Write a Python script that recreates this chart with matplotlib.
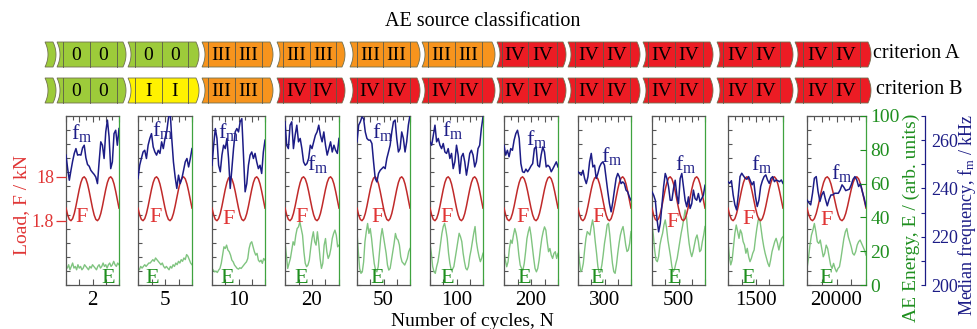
import numpy as np
import matplotlib
matplotlib.use("Agg")
import matplotlib.pyplot as plt
from matplotlib.patches import Polygon

plt.rcParams['font.family'] = ['Liberation Serif', 'DejaVu Serif']
plt.rcParams['mathtext.fontset'] = 'custom'
plt.rcParams['mathtext.rm'] = 'Liberation Serif'
plt.rcParams['mathtext.it'] = 'Liberation Serif:italic'

# ---------------- data ----------------
cycle_labels = ["2", "5", "10", "20", "50", "100", "200", "300", "500", "1500", "20000"]
criterion_A = ["0", "0", "III", "III", "III", "III", "IV", "IV", "IV", "IV", "IV"]
criterion_B = ["0", "I", "III", "IV", "IV", "IV", "IV", "IV", "IV", "IV", "IV"]

# load waveform (kN), same in every panel, two load cycles per panel
load_F = [6.45, 3.91, 2.28, 1.81, 2.57, 4.45, 7.16, 10.28, 13.35, 15.89, 17.52, 17.99,
          17.23, 15.35, 12.64, 9.52, 6.45, 3.91, 2.28, 1.81, 2.57, 4.45, 7.16, 10.28,
          13.35, 15.89, 17.52, 17.99, 17.23, 15.35, 12.64, 9.52, 6.45]

# median frequency (kHz)
fm_2 = [253.8, 248.2, 243.4, 247.5, 251.3, 254.5, 256.5, 253.8, 254.0, 253.8, 256.8, 257.9, 252.7,
        249.9, 249.2, 247.5, 246.6, 245.8, 244.7, 242.0, 251.0, 259.3, 257.9, 252.4, 263.4, 268.3,
        261.4, 248.2, 251.0, 262.7, 264.1, 257.9, 264.8]
fm_5 = [244.1, 249.6, 252.4, 255.1, 255.8, 252.4, 257.9, 260.7, 262.7, 257.2, 255.1, 253.8, 255.8,
        254.5, 259.3, 256.5, 260.7, 263.4, 268.9, 272.5, 260.7, 251.0, 244.8, 240.0, 245.5, 242.0,
        244.1, 247.5, 251.0, 252.4, 248.9, 252.4, 256.5]
fm_10 = [249.6, 257.9, 264.8, 260.7, 249.6, 246.9, 253.8, 257.9, 256.5, 260.7, 252.4, 240.0, 248.2,
         256.5, 263.4, 264.8, 263.4, 267.6, 268.9, 253.8, 238.6, 242.0, 249.6, 253.8, 255.1, 252.4,
         254.5, 251.0, 248.2, 249.6, 246.2, 255.1, 260.0]
fm_20 = [267.6, 257.9, 256.5, 266.2, 267.6, 256.5, 262.0, 266.2, 259.3, 260.7, 256.5, 251.0, 249.6,
         250.3, 252.4, 257.9, 256.5, 259.3, 262.0, 263.4, 266.2, 262.0, 259.3, 263.4, 257.9, 253.8,
         256.5, 259.3, 255.1, 257.9, 255.8, 254.5, 260.7]
fm_50 = [259.3, 266.2, 267.6, 269.6, 268.9, 263.4, 260.7, 260.0, 260.0, 258.6, 251.0, 244.1, 242.7,
         246.2, 247.5, 248.2, 248.9, 248.2, 252.4, 255.1, 257.9, 263.4, 267.6, 268.3, 260.7, 255.1,
         256.5, 263.4, 260.7, 255.1, 259.3, 266.2, 270.3]
fm_100 = [259.3, 257.9, 262.0, 266.2, 259.3, 260.7, 257.9, 256.5, 258.6, 255.1, 254.5, 256.5, 252.4,
          254.5, 248.2, 251.0, 257.9, 253.8, 246.2, 253.1, 254.5, 251.0, 245.5, 249.6, 254.5, 255.8,
          253.8, 248.9, 251.0, 256.5, 257.9, 264.8, 269.6]
fm_200 = [257.9, 253.8, 255.8, 253.1, 256.5, 255.8, 260.0, 262.7, 264.1, 260.7, 250.3, 246.9, 246.6,
          248.0, 246.9, 248.0, 249.3, 250.3, 256.5, 257.2, 249.6, 248.9, 253.8, 257.2, 255.1, 248.9,
          249.6, 248.9, 246.9, 248.2, 249.6, 251.0, 248.9]
fm_300 = [246.9, 246.2, 245.5, 247.5, 244.1, 242.0, 244.8, 251.0, 254.5, 248.9, 249.6, 244.1, 246.2,
          248.9, 250.3, 251.0, 249.6, 244.1, 238.6, 233.7, 230.3, 234.4, 239.3, 244.1, 246.2, 244.8,
          242.0, 242.7, 242.0, 239.3, 238.6, 236.5, 235.1]
fm_500 = [238.6, 237.2, 235.1, 227.5, 222.0, 225.5, 233.1, 240.7, 246.2, 244.1, 240.7, 235.1, 235.1,
          240.0, 243.4, 237.2, 233.7, 244.1, 246.2, 240.7, 235.1, 232.4, 236.5, 231.7, 233.7, 239.3,
          235.8, 235.1, 237.9, 234.4, 235.8, 237.2, 241.3]
fm_1500 = [242.8, 242.1, 243.2, 237.3, 233.2, 231.1, 237.3, 244.9, 246.3, 245.2, 244.2, 243.8, 244.9,
           243.2, 241.5, 242.8, 236.6, 232.5, 235.2, 240.8, 243.2, 244.9, 245.6, 243.5, 242.1, 244.2,
           244.9, 242.8, 243.5, 243.2, 242.8, 243.5, 242.1]
fm_20000 = [235.2, 234.1, 233.2, 238.0, 244.2, 244.9, 238.7, 234.6, 237.3, 238.7, 235.5, 232.8, 235.5,
            237.3, 237.3, 238.0, 238.0, 238.0, 239.4, 241.5, 240.5, 239.1, 239.4, 239.7, 241.5, 243.8,
            244.9, 243.5, 240.8, 241.9, 238.7, 235.9, 232.5]

# AE energy (arb. units)
E_2 = [11, 10, 12, 9, 11, 13, 10, 11, 9, 12, 10, 11, 9, 10, 12, 11, 10, 9, 11, 10, 12, 11, 10, 9, 11,
       12, 10, 11, 13, 11, 12, 10, 12, 13, 11, 12, 14, 12, 11, 13, 12]
E_5 = [10, 9, 11, 10, 11, 12, 11, 12, 13, 13, 14, 15, 14, 16, 15, 14, 13, 12, 13, 11, 10, 11, 10, 9,
       11, 10, 12, 11, 13, 12, 14, 13, 15, 14, 16, 15, 18, 17, 15, 13, 12]
E_10 = [9.8, 8.8, 7.8, 8.2, 7.4, 8.8, 9.8, 12.8, 17.7, 22.6, 21.6, 23.6, 20.7, 19.7, 17.7, 14.7, 13.7,
        11.8, 10.8, 9.8, 9.4, 10.2, 9.8, 10.8, 11.8, 12.8, 13.7, 15.7, 21.6, 24.6, 25.6, 22.6, 19.7,
        17.7, 18.7, 14.7, 13.7, 14.7, 12.8, 15.7, 14.7]
E_20 = [25.6, 17.7, 9.8, 12.8, 15.7, 20.6, 25.6, 23.6, 29.5, 33.4, 34.4, 37.4, 33.4, 29.5, 19.7, 12.8,
        10.8, 11.8, 14.7, 21.6, 27.5, 31.5, 25.6, 23.6, 31.5, 24.6, 15.7, 9.8, 12.8, 23.6, 27.5, 19.7,
        15.7, 17.7, 21.6, 27.5, 30.5, 32.5, 29.5, 22.6, 23.6]
E_50 = [31.5, 19.7, 9.8, 6.9, 7.8, 13.7, 25.6, 31.5, 36.4, 30.5, 33.4, 27.5, 19.7, 12.8, 8.8, 7.8,
        10.8, 19.7, 28.5, 33.4, 28.5, 23.6, 18.7, 11.8, 8.8, 9.8, 14.7, 19.7, 24.6, 30.5, 27.5, 26.6,
        23.6, 16.7, 13.7, 12.8, 11.8, 13.7, 15.7, 19.7, 21.6]
E_100 = [24.7, 18.8, 10.9, 7.9, 6.9, 10.9, 13.8, 18.8, 24.7, 30.6, 34.6, 36.5, 32.6, 27.6, 18.8, 12.8,
         8.9, 9.3, 10.9, 15.8, 20.7, 25.7, 30.6, 28.6, 25.7, 18.8, 13.8, 9.9, 8.9, 10.9, 16.8, 20.7,
         25.7, 30.6, 34.6, 25.7, 20.7, 16.8, 13.8, 15.8, 18.8]
E_200 = [19.7, 14.7, 10.8, 13.7, 21.6, 26.6, 24.6, 29.5, 33.4, 30.5, 25.6, 17.7, 11.8, 9.8, 8.8, 12.8,
         19.7, 27.5, 31.5, 34.4, 29.5, 22.6, 15.7, 9.8, 7.8, 9.8, 14.7, 21.6, 27.5, 31.5, 34.4, 32.5,
         25.6, 19.7, 21.6, 17.7, 15.7, 18.7, 19.7, 15.7, 18.7]
E_300 = [24.7, 14.8, 7.9, 8.9, 12.8, 20.7, 27.6, 31.6, 30.6, 29.6, 34.6, 38.5, 33.6, 25.7, 18.8, 10.9,
         7.3, 7.9, 11.8, 17.8, 24.7, 29.6, 35.5, 36.5, 29.6, 20.7, 12.8, 7.9, 6.9, 11.8, 18.8, 24.7,
         29.6, 32.6, 34.6, 29.6, 23.7, 19.8, 20.7, 24.7, 31.6]
E_500 = [36.5, 29.6, 20.7, 14.8, 13.8, 16.8, 23.7, 27.6, 30.6, 35.5, 38.5, 33.6, 26.6, 21.7, 16.8, 10.9,
         7.9, 9.3, 12.8, 15.8, 20.7, 25.7, 30.6, 34.6, 39.5, 44.4, 40.4, 31.6, 24.7, 19.7, 16.8, 19.7,
         23.7, 27.6, 29.6, 25.7, 19.7, 20.7, 25.7, 29.6, 34.6]
E_1500 = [26.6, 16.8, 11.9, 14.8, 22.7, 30.6, 35.5, 31.6, 27.6, 32.6, 30.6, 25.7, 23.7, 18.8, 21.7,
          16.8, 13.8, 15.8, 18.8, 20.7, 27.6, 33.6, 38.5, 39.5, 33.6, 27.6, 22.7, 18.8, 15.8, 12.8,
          10.9, 14.8, 19.7, 22.7, 25.7, 27.6, 24.7, 20.7, 24.7, 27.6, 28.6]
E_20000 = [9.8, 15.7, 23.6, 29.5, 32.5, 36.4, 31.5, 25.6, 24.6, 26.6, 21.6, 16.7, 18.7, 23.6, 21.6,
           16.7, 11.8, 9.8, 12.8, 9.8, 7.8, 9.8, 10.8, 15.7, 21.6, 27.5, 31.5, 33.4, 28.5, 25.6, 22.6,
           18.7, 17.7, 19.7, 23.6, 25.6, 26.6, 24.6, 22.6, 20.6, 17.7]

fm_panels = [fm_2, fm_5, fm_10, fm_20, fm_50, fm_100, fm_200, fm_300, fm_500, fm_1500, fm_20000]
E_panels = [E_2, E_5, E_10, E_20, E_50, E_100, E_200, E_300, E_500, E_1500, E_20000]

E_ticks = [0, 20, 40, 60, 80, 100]
fm_ticks = [200, 220, 240, 260]
F_ticks = [1.8, 18]
F_tick_labels = ["1.8", "18"]

# ---------------- style / layout ----------------
W, H = 977, 329
CLASS_COLORS = {"0": "#9dcb3a", "I": "#fff200", "III": "#f7941d", "IV": "#ec1c24"}
NAVY = "#1c1c86"
GREEN = "#1f8f1f"
E_COLOR = "#80c480"
F_COLOR = "#c02a2a"
RED_TXT = "#e03535"
GRAY = "#555555"

PANEL_L = [66, 138, 212, 285, 357, 430, 504, 578, 652, 728, 807]
PANEL_R = [119, 192, 265, 339, 410, 483, 558, 631, 705, 783, 866]
P_TOP, P_BOT = 116, 285
F_LIM = (-21.9, 40.4)
FM_LIM = (200, 270)

POS_FM = [(0.30, 0.90), (0.45, 0.915), (0.32, 0.905), (0.60, 0.715), (0.49, 0.905), (0.43, 0.915),
          (0.61, 0.865), (0.64, 0.765), (0.64, 0.715), (0.62, 0.715), (0.59, 0.665)]
POS_F = [(0.30, 0.373), (0.32, 0.373), (0.32, 0.36), (0.30, 0.373), (0.38, 0.373), (0.32, 0.373),
         (0.35, 0.373), (0.38, 0.373), (0.39, 0.343), (0.38, 0.36), (0.34, 0.355)]
POS_E = [(0.80, 0.012), (0.26, 0.012), (0.28, 0.012), (0.30, 0.012), (0.38, 0.012), (0.32, 0.012),
         (0.37, 0.012), (0.36, 0.012), (0.41, 0.012), (0.36, 0.012), (0.32, 0.012)]

BLOCK_L = [57, 128, 202, 277, 350, 422, 497, 568, 643, 717, 795]
BLOCK_R = [123, 196, 270, 342, 417, 492, 563, 637, 710, 790, 868]
BLOCK_DIV = [(63, 90, 117), (135, 162, 188), (208, 235, 262), (283, 310, 336), (357, 383, 410),
             (428, 455, 482), (502, 528, 557), (575, 603, 630), (648, 675, 703), (723, 752, 780),
             (803, 832, 860)]
SLIVER = (45, 53)
ROWS = [(42, 67), (78, 103)]
BULGE = 3.0


def fx(px):
    return px / W


def fy(py):
    return 1 - py / H


fig = plt.figure(figsize=(W / 100, H / 100), dpi=100)

# ---------------- classification bars ----------------
ov = fig.add_axes([0, 0, 1, 1])
ov.set_xlim(0, W)
ov.set_ylim(H, 0)
ov.axis("off")


def block_poly(xl, xr, yt, yb):
    t = np.linspace(0, 1, 15)
    ys = yt + (yb - yt) * t
    bul = BULGE * 4 * t * (1 - t)
    left = np.column_stack([xl + bul, ys])
    right = np.column_stack([xr + bul, ys])[::-1]
    return np.vstack([left, right])


for (yt, yb), crit in zip(ROWS, [criterion_A, criterion_B]):
    ov.add_patch(Polygon(block_poly(SLIVER[0], SLIVER[1], yt, yb), closed=True,
                         facecolor=CLASS_COLORS["0"], edgecolor="#707050", lw=0.6))
    for i, cls in enumerate(crit):
        ov.add_patch(Polygon(block_poly(BLOCK_L[i], BLOCK_R[i], yt, yb), closed=True,
                             facecolor=CLASS_COLORS[cls], edgecolor="#707050", lw=0.6))
        d = BLOCK_DIV[i]
        for xd in d:
            ov.plot([xd, xd], [yt, yb], color="#5a5a4a", lw=0.6)
        for c in [(d[0] + d[1]) / 2, (d[1] + d[2]) / 2]:
            ov.text(c, (yt + yb) / 2 + 1, cls, ha="center", va="center", fontsize=14, color="black")

fig.text(fx(483), fy(22), "AE source classification", ha="center", va="center", fontsize=14.5)
fig.text(fx(873), fy(54), "criterion A", ha="left", va="center", fontsize=14.5)
fig.text(fx(876), fy(90), "criterion B", ha="left", va="center", fontsize=14.5)

# ---------------- panels ----------------
for i in range(len(cycle_labels)):
    l, r = PANEL_L[i], PANEL_R[i]
    ax = fig.add_axes([fx(l), fy(P_BOT), (r - l) / W, (P_BOT - P_TOP) / H])
    ax.set_xlim(0, 2)
    ax.set_ylim(0, 100)
    E = E_panels[i]
    ax.plot(np.linspace(0, 2, len(E)), E, color=E_COLOR, lw=1.0)

    for s in ["left", "top", "bottom"]:
        ax.spines[s].set_color(GRAY)
        ax.spines[s].set_linewidth(0.9)
    ax.spines["right"].set_color("#3fa33f")
    ax.spines["right"].set_linewidth(0.9)

    ax.set_yticks(np.linspace(0, 100, 13))
    ax.tick_params(axis="y", which="major", direction="in", left=True, right=True,
                   labelleft=False, labelright=False, length=3, width=0.8, color=GRAY)
    for t in ax.yaxis.get_major_ticks():
        t.tick2line.set_color("#3fa33f")
    ax.set_xticks([0, 0.5, 1, 1.5, 2])
    ax.set_xticklabels(["", "", cycle_labels[i], "", ""])
    ax.set_xticks([0.25, 0.75, 1.25, 1.75], minor=True)
    ax.tick_params(axis="x", which="major", direction="in", bottom=True, top=True, length=4,
                   width=0.8, color=GRAY, labelsize=15, pad=4.5)
    ax.tick_params(axis="x", which="minor", direction="in", bottom=False, top=True, length=3,
                   width=0.8, color=GRAY)

    axF = ax.twinx()
    axF.set_ylim(*F_LIM)
    axF.plot(np.linspace(0, 2, len(load_F)), load_F, color=F_COLOR, lw=1.1)
    for s in axF.spines.values():
        s.set_visible(False)
    if i == 0:
        axF.yaxis.tick_left()
        axF.set_yticks(F_ticks)
        axF.set_yticklabels(F_tick_labels)
        axF.tick_params(axis="y", direction="out", length=7.5, width=0.9, color=RED_TXT,
                        labelcolor=RED_TXT, labelsize=13, pad=1)
    else:
        axF.set_yticks([])

    axm = ax.twinx()
    axm.set_ylim(*FM_LIM)
    fm = fm_panels[i]
    axm.plot(np.linspace(0, 2, len(fm)), fm, color=NAVY, lw=1.1)
    for s in axm.spines.values():
        s.set_visible(False)
    axm.set_yticks([])

    if i == len(cycle_labels) - 1:
        axg = ax.twinx()
        axg.set_ylim(0, 100)
        for s in axg.spines.values():
            s.set_visible(False)
        axg.set_yticks(E_ticks)
        axg.tick_params(axis="y", direction="in", length=4, width=0.8, colors=GREEN,
                        labelsize=14, pad=3)

    ax.text(*POS_FM[i], r"f$_\mathrm{m}$", transform=ax.transAxes, ha="center", va="center",
            fontsize=16, color=NAVY, zorder=5)
    ax.text(*POS_F[i], "F", transform=ax.transAxes, ha="center", va="baseline",
            fontsize=16, color=RED_TXT, zorder=5)
    ax.text(*POS_E[i], "E", transform=ax.transAxes, ha="center", va="baseline",
            fontsize=16, color=GREEN, zorder=5)

# median-frequency axis
axb = fig.add_axes([fx(925), fy(P_BOT), 0.0005, (P_BOT - P_TOP) / H])
axb.set_ylim(*FM_LIM)
axb.set_xticks([])
for s in ["top", "bottom", "right"]:
    axb.spines[s].set_visible(False)
axb.spines["left"].set_color(NAVY)
axb.spines["left"].set_linewidth(0.9)
axb.set_yticks(fm_ticks)
axb.set_yticks([210, 230, 250, 270], minor=True)
axb.tick_params(axis="y", which="both", left=True, right=False, labelleft=False, labelright=True,
                direction="out", length=3, width=0.8, color=NAVY, labelcolor=NAVY, labelsize=13, pad=1)

fig.text(fx(22), fy(205), "Load, F / kN", rotation=90, ha="center", va="center",
         fontsize=14, color=RED_TXT)
fig.text(fx(911), fy(218), "AE Energy, E / (arb. units)", rotation=90, ha="center", va="center",
         fontsize=14, color=GREEN)
fig.text(fx(966.5), fy(215), r"Median frequency, f$_\mathrm{m}$ / kHz", rotation=90, ha="center",
         va="center", fontsize=13, color=NAVY)
fig.text(fx(472), fy(326), "Number of cycles, N", ha="center", va="baseline", fontsize=14)

fig.savefig("out.png", dpi=100)
